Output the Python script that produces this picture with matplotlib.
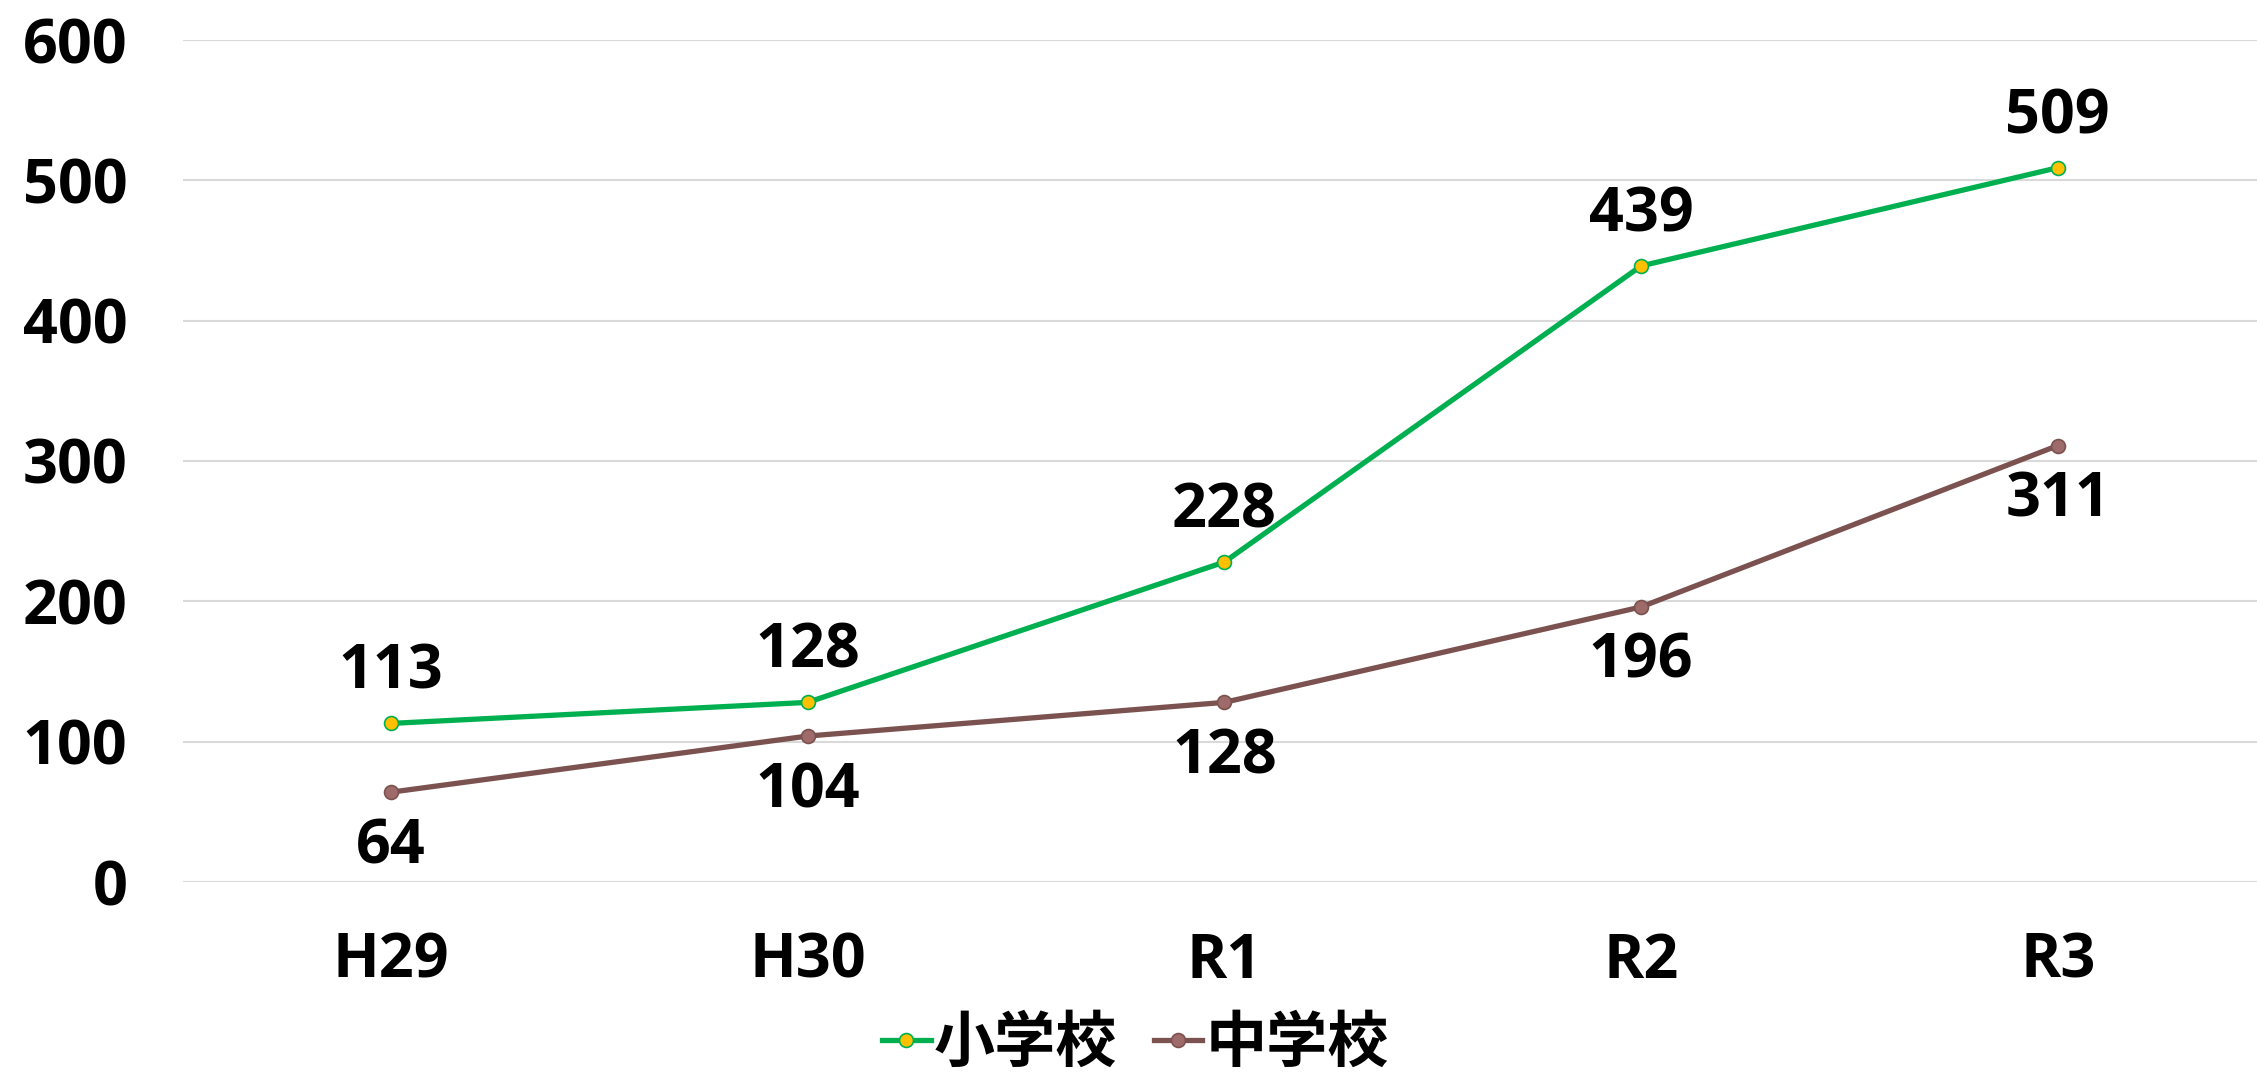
import matplotlib.pyplot as plt

# 年度ごとの件数
years = ['H29', 'H30', 'R1', 'R2', 'R3']
elementary = [113, 128, 228, 439, 509]
junior_high = [64, 104, 128, 196, 311]

plt.rcParams['font.family'] = ['Open Sans', 'Noto Sans CJK JP', 'DejaVu Sans']
plt.rcParams['font.weight'] = 'bold'

fig = plt.figure(figsize=(22.57, 10.84), dpi=100)
ax = fig.add_axes([183 / 2257, 1 - 882 / 1084, 1 - 183 / 2257, (882 - 40) / 1084])

x = list(range(len(years)))
ax.plot(x, elementary, color='#00B050', lw=3.8, marker='o', ms=10,
        mfc='#FFC000', mec='#00B050', mew=1.2, label='小学校', zorder=3)
ax.plot(x, junior_high, color='#7B5250', lw=3.8, marker='o', ms=10,
        mfc='#9E6A6A', mec='#7B5250', mew=1.2, label='中学校', zorder=3)

fs = 44
for i, v in enumerate(elementary):
    ax.annotate(str(v), (i, v), xytext=(0, 14), textcoords='offset points',
                ha='center', va='bottom', fontsize=fs, fontweight='bold')
for i, v in enumerate(junior_high):
    ax.annotate(str(v), (i, v), xytext=(0, -18), textcoords='offset points',
                ha='center', va='top', fontsize=fs, fontweight='bold')

ax.set_xlim(-0.499, 4.478)
ax.set_ylim(0, 600)
ax.set_yticks(range(0, 601, 100))
ax.set_xticks(x)
ax.set_xticklabels(years)
ax.grid(axis='y', color='#D9D9D9', lw=1.5)
ax.set_axisbelow(True)
for s in ax.spines.values():
    s.set_visible(False)
ax.tick_params(length=0, labelsize=fs)
ax.tick_params(axis='y', pad=40)
ax.tick_params(axis='x', pad=36)
for lab in ax.get_xticklabels() + ax.get_yticklabels():
    lab.set_fontweight('bold')

fig.legend(loc='lower center', bbox_to_anchor=(0.503, -0.042), ncol=2, frameon=False,
           prop={'family': ['Noto Sans CJK JP', 'DejaVu Sans'], 'weight': 'bold', 'size': fs},
           handlelength=0.8, handletextpad=0.05, columnspacing=0.6)

fig.savefig('out.png', dpi=100)
